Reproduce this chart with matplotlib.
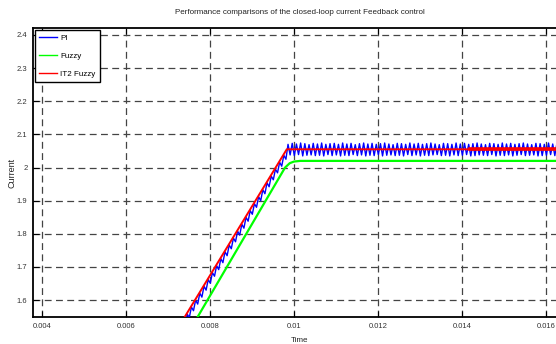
import numpy as np
import matplotlib
matplotlib.use("Agg")
import matplotlib.pyplot as plt
from matplotlib import font_manager

names = {f.name for f in font_manager.fontManager.ttflist}
fam = [n for n in ['Liberation Sans Narrow', 'Liberation Sans', 'DejaVu Sans'] if n in names]
plt.rcParams['font.family'] = fam

# ---------------- data ----------------
title = "Performance comparisons of the closed-loop current Feedback control"
x_label = "Time"
y_label = "Current"
series_names = ["PI", "Fuzzy", "IT2 Fuzzy"]

x_ticks = [0.004, 0.006, 0.008, 0.010, 0.012, 0.014, 0.016]
x_tick_labels = ["0.004", "0.006", "0.008", "0.01", "0.012", "0.014", "0.016"]
y_ticks = [1.6, 1.7, 1.8, 1.9, 2.0, 2.1, 2.2, 2.3, 2.4]
y_tick_labels = ["1.6", "1.7", "1.8", "1.9", "2", "2.1", "2.2", "2.3", "2.4"]

# PI (blue) sampled every 0.05 ms starting at 7.36 ms
pi_t0 = 0.00736
pi_dt = 0.00005
pi_values = [
    1.538, 1.526, 1.558, 1.547, 1.579, 1.568, 1.600, 1.588, 1.621, 1.609,
    1.642, 1.630, 1.662, 1.651, 1.683, 1.672, 1.704, 1.692, 1.725, 1.713,
    1.746, 1.734, 1.766, 1.755, 1.787, 1.776, 1.808, 1.796, 1.829, 1.817,
    1.850, 1.838, 1.870, 1.859, 1.891, 1.880, 1.912, 1.900, 1.933, 1.921,
    1.954, 1.942, 1.974, 1.963, 1.995, 1.984, 2.016, 2.004, 2.037, 2.025,
    2.070, 2.038, 2.073, 2.036, 2.071, 2.039, 2.074, 2.035, 2.072, 2.037,
    2.069, 2.038, 2.073, 2.036, 2.071, 2.037, 2.074, 2.035, 2.070, 2.039,
    2.072, 2.036, 2.073, 2.038, 2.070, 2.035, 2.074, 2.037, 2.071, 2.036,
    2.073, 2.039, 2.069, 2.036, 2.072, 2.038, 2.074, 2.035, 2.071, 2.037,
    2.073, 2.036, 2.070, 2.039, 2.072, 2.035, 2.074, 2.037, 2.071, 2.038,
    2.069, 2.036, 2.073, 2.037, 2.072, 2.035, 2.070, 2.039, 2.074, 2.036,
    2.071, 2.038, 2.073, 2.035, 2.070, 2.037, 2.072, 2.036, 2.074, 2.038,
    2.071, 2.039, 2.069, 2.036, 2.073, 2.037, 2.072, 2.035, 2.070, 2.038,
    2.074, 2.036, 2.071, 2.037, 2.073, 2.039, 2.070, 2.035, 2.072, 2.036,
    2.074, 2.038, 2.071, 2.037, 2.069, 2.036, 2.073, 2.039, 2.072, 2.035,
    2.070, 2.037, 2.074, 2.036, 2.071, 2.038, 2.073, 2.035, 2.070, 2.037,
    2.072, 2.039, 2.074, 2.036, 2.071, 2.037, 2.069, 2.038, 2.073, 2.035,
    2.072, 2.036, 2.070, 2.037, 2.074, 2.039, 2.071, 2.036, 2.073, 2.038,
    2.070, 2.035, 2.072, 2.037, 2.074, 2.036,
]

# Fuzzy (green)
fuzzy_t = [0.00762, 0.00979, 0.00990, 0.01000, 0.01015, 0.0166]
fuzzy_v = [1.530, 2.000, 2.013, 2.018, 2.020, 2.020]

# IT2 Fuzzy (red)
it2_t = [0.00728, 0.00983, 0.01420, 0.0166]
it2_v = [1.524, 2.055, 2.055, 2.055]
it2_noisy_from = 0.0142

# ---------------- figure ----------------
W, H = 556, 344
fig = plt.figure(figsize=(W / 100, H / 100), dpi=100)
ax = fig.add_axes([33 / W, (H - 317) / H, (567 - 33) / W, (317 - 28) / H])

pi_t = pi_t0 + pi_dt * np.arange(len(pi_values))
ax.plot(pi_t, pi_values, color=(0, 0, 1), lw=1.0, label=series_names[0], zorder=3)
ax.plot(fuzzy_t, fuzzy_v, color=(0, 1, 0), lw=1.6, label=series_names[1], zorder=4)
ax.plot(it2_t, it2_v, color=(1, 0, 0), lw=1.4, label=series_names[2], zorder=5)
it2_t_arr = np.array(it2_t)
mask = it2_t_arr >= it2_noisy_from
ax.plot(it2_t_arr[mask], np.array(it2_v)[mask], color=(1, 0, 0), lw=2.6, zorder=5)

ax.set_xlim(0.00379, 0.0165)
ax.set_ylim(1.549, 2.421)
ax.set_xticks(x_ticks)
ax.set_xticklabels(x_tick_labels)
ax.set_yticks(y_ticks)
ax.set_yticklabels(y_tick_labels)

ax.tick_params(direction='in', length=4, width=0.8, top=True, right=True,
               labelsize=5.5, pad=4, colors='black')
for tl in ax.get_xticklabels() + ax.get_yticklabels():
    tl.set_color('#333333')
for sp in ax.spines.values():
    sp.set_linewidth(1.3)

ax.grid(True, color='#444444', lw=0.9, linestyle=(0, (5.5, 3.5)))
ax.set_axisbelow(True)

ax.set_title(title, fontsize=5.8, pad=10, color='#222222')
ax.set_xlabel(x_label, fontsize=5.8, labelpad=5, color='#222222')
ax.set_ylabel(y_label, fontsize=6.5, color='#222222')
ax.yaxis.set_label_coords(-0.030, 0.5)

leg = ax.legend(loc='upper left', fontsize=5.8, frameon=True, fancybox=False,
                edgecolor='black', framealpha=1, borderaxespad=0.25,
                handlelength=2.2, labelspacing=1.25, handletextpad=0.35,
                borderpad=0.55)
leg.get_frame().set_linewidth(1.0)
for line in leg.get_lines():
    line.set_linewidth(1.0)

fig.savefig("out.png", dpi=100)
